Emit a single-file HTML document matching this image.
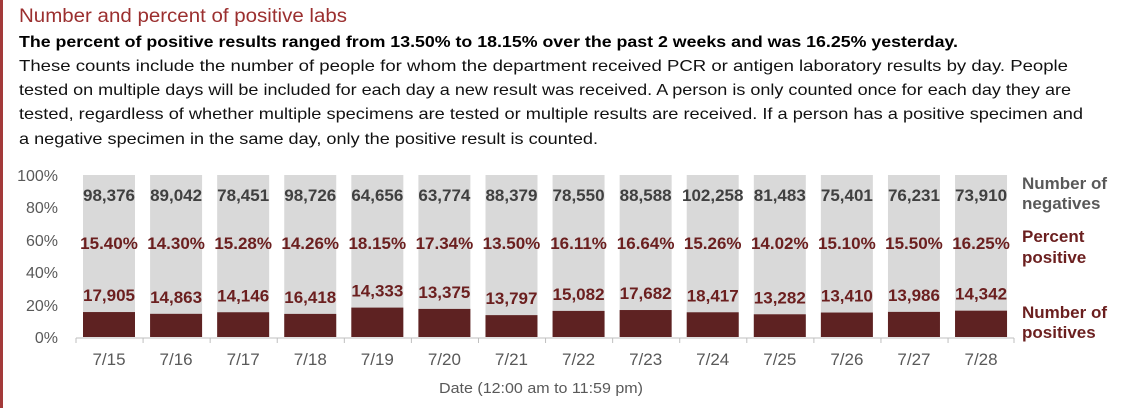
<!DOCTYPE html>
<html><head><meta charset="utf-8"><style>
html,body{margin:0;padding:0;background:#fff;}
svg{display:block;font-family:"Liberation Sans",sans-serif;}
</style></head><body>
<svg width="1140" height="408" viewBox="0 0 1140 408" xmlns="http://www.w3.org/2000/svg">
<rect x="0" y="0" width="3" height="408" fill="#a33a3a"/>
<text x="19" y="22" font-size="19" fill="#9b2f2f" textLength="328" lengthAdjust="spacingAndGlyphs">Number and percent of positive labs</text>
<text x="19" y="47" font-size="16" font-weight="bold" fill="#000" textLength="939" lengthAdjust="spacingAndGlyphs">The percent of positive results ranged from 13.50% to 18.15% over the past 2 weeks and was 16.25% yesterday.</text>
<g font-size="16" fill="#111">
<text x="19" y="71" textLength="1049" lengthAdjust="spacingAndGlyphs">These counts include the number of people for whom the department received PCR or antigen laboratory results by day. People</text>
<text x="19" y="95" textLength="1052" lengthAdjust="spacingAndGlyphs">tested on multiple days will be included for each day a new result was received. A person is only counted once for each day they are</text>
<text x="19" y="119" textLength="1064" lengthAdjust="spacingAndGlyphs">tested, regardless of whether multiple specimens are tested or multiple results are received. If a person has a positive specimen and</text>
<text x="19" y="144" textLength="579" lengthAdjust="spacingAndGlyphs">a negative specimen in the same day, only the positive result is counted.</text>
</g>
<g font-size="16" fill="#595959" text-anchor="end">
<text x="58" y="181">100%</text><text x="58" y="213">80%</text><text x="58" y="246">60%</text><text x="58" y="278">40%</text><text x="58" y="311">20%</text><text x="58" y="343">0%</text>
</g>
<line x1="76" y1="338" x2="1014" y2="338" stroke="#bfbfbf" stroke-width="1"/>
<g fill="#d9d9d9">
<rect x="83" y="175" width="52" height="162"/><rect x="150.08" y="175" width="52" height="162"/><rect x="217.16" y="175" width="52" height="162"/><rect x="284.24" y="175" width="52" height="162"/><rect x="351.32" y="175" width="52" height="162"/><rect x="418.4" y="175" width="52" height="162"/><rect x="485.48" y="175" width="52" height="162"/><rect x="552.56" y="175" width="52" height="162"/><rect x="619.64" y="175" width="52" height="162"/><rect x="686.72" y="175" width="52" height="162"/><rect x="753.8" y="175" width="52" height="162"/><rect x="820.88" y="175" width="52" height="162"/><rect x="887.96" y="175" width="52" height="162"/><rect x="955.04" y="175" width="52" height="162"/>
</g>
<g fill="#5e2222">
<rect x="83" y="312.05" width="52" height="24.95"/><rect x="150.08" y="313.83" width="52" height="23.17"/><rect x="217.16" y="312.25" width="52" height="24.75"/><rect x="284.24" y="313.9" width="52" height="23.1"/><rect x="351.32" y="307.6" width="52" height="29.4"/><rect x="418.4" y="308.91" width="52" height="28.09"/><rect x="485.48" y="315.13" width="52" height="21.87"/><rect x="552.56" y="310.9" width="52" height="26.1"/><rect x="619.64" y="310.04" width="52" height="26.96"/><rect x="686.72" y="312.28" width="52" height="24.72"/><rect x="753.8" y="314.29" width="52" height="22.71"/><rect x="820.88" y="312.54" width="52" height="24.46"/><rect x="887.96" y="311.89" width="52" height="25.11"/><rect x="955.04" y="310.67" width="52" height="26.33"/>
</g>
<g stroke="#bfbfbf">
<line x1="76" y1="338" x2="76" y2="343"/><line x1="143.08" y1="338" x2="143.08" y2="343"/><line x1="210.16" y1="338" x2="210.16" y2="343"/><line x1="277.24" y1="338" x2="277.24" y2="343"/><line x1="344.32" y1="338" x2="344.32" y2="343"/><line x1="411.4" y1="338" x2="411.4" y2="343"/><line x1="478.48" y1="338" x2="478.48" y2="343"/><line x1="545.56" y1="338" x2="545.56" y2="343"/><line x1="612.64" y1="338" x2="612.64" y2="343"/><line x1="679.72" y1="338" x2="679.72" y2="343"/><line x1="746.8" y1="338" x2="746.8" y2="343"/><line x1="813.88" y1="338" x2="813.88" y2="343"/><line x1="880.96" y1="338" x2="880.96" y2="343"/><line x1="948.04" y1="338" x2="948.04" y2="343"/><line x1="1014" y1="338" x2="1014" y2="343"/>
</g>
<g font-size="17" font-weight="bold" fill="#404040" text-anchor="middle">
<text x="109" y="201">98,376</text><text x="176.08" y="201">89,042</text><text x="243.16" y="201">78,451</text><text x="310.24" y="201">98,726</text><text x="377.32" y="201">64,656</text><text x="444.4" y="201">63,774</text><text x="511.48" y="201">88,379</text><text x="578.56" y="201">78,550</text><text x="645.64" y="201">88,588</text><text x="712.72" y="201">102,258</text><text x="779.8" y="201">81,483</text><text x="846.88" y="201">75,401</text><text x="913.96" y="201">76,231</text><text x="981.04" y="201">73,910</text>
</g>
<g font-size="17" font-weight="bold" fill="#6b1f1f" text-anchor="middle">
<text x="109" y="249">15.40%</text><text x="176.08" y="249">14.30%</text><text x="243.16" y="249">15.28%</text><text x="310.24" y="249">14.26%</text><text x="377.32" y="249">18.15%</text><text x="444.4" y="249">17.34%</text><text x="511.48" y="249">13.50%</text><text x="578.56" y="249">16.11%</text><text x="645.64" y="249">16.64%</text><text x="712.72" y="249">15.26%</text><text x="779.8" y="249">14.02%</text><text x="846.88" y="249">15.10%</text><text x="913.96" y="249">15.50%</text><text x="981.04" y="249">16.25%</text>
<text x="109" y="301">17,905</text><text x="176.08" y="302.8">14,863</text><text x="243.16" y="301.3">14,146</text><text x="310.24" y="302.9">16,418</text><text x="377.32" y="296.6">14,333</text><text x="444.4" y="297.9">13,375</text><text x="511.48" y="304.1">13,797</text><text x="578.56" y="299.9">15,082</text><text x="645.64" y="299">17,682</text><text x="712.72" y="301.3">18,417</text><text x="779.8" y="303.3">13,282</text><text x="846.88" y="301.5">13,410</text><text x="913.96" y="300.9">13,986</text><text x="981.04" y="299.7">14,342</text>
</g>
<g font-size="17" fill="#595959" text-anchor="middle">
<text x="109" y="365">7/15</text><text x="176.08" y="365">7/16</text><text x="243.16" y="365">7/17</text><text x="310.24" y="365">7/18</text><text x="377.32" y="365">7/19</text><text x="444.4" y="365">7/20</text><text x="511.48" y="365">7/21</text><text x="578.56" y="365">7/22</text><text x="645.64" y="365">7/23</text><text x="712.72" y="365">7/24</text><text x="779.8" y="365">7/25</text><text x="846.88" y="365">7/26</text><text x="913.96" y="365">7/27</text><text x="981.04" y="365">7/28</text>
</g>
<text x="541" y="393" font-size="15" fill="#595959" text-anchor="middle" textLength="204" lengthAdjust="spacingAndGlyphs">Date (12:00 am to 11:59 pm)</text>
<g font-size="17" font-weight="bold">
<text x="1022" y="189" fill="#595959">Number of</text>
<text x="1022" y="209" fill="#595959">negatives</text>
<text x="1022" y="242" fill="#6b1f1f">Percent</text>
<text x="1022" y="263" fill="#6b1f1f">positive</text>
<text x="1022" y="318" fill="#6b1f1f">Number of</text>
<text x="1022" y="338" fill="#6b1f1f">positives</text>
</g>
</svg>
</body></html>
